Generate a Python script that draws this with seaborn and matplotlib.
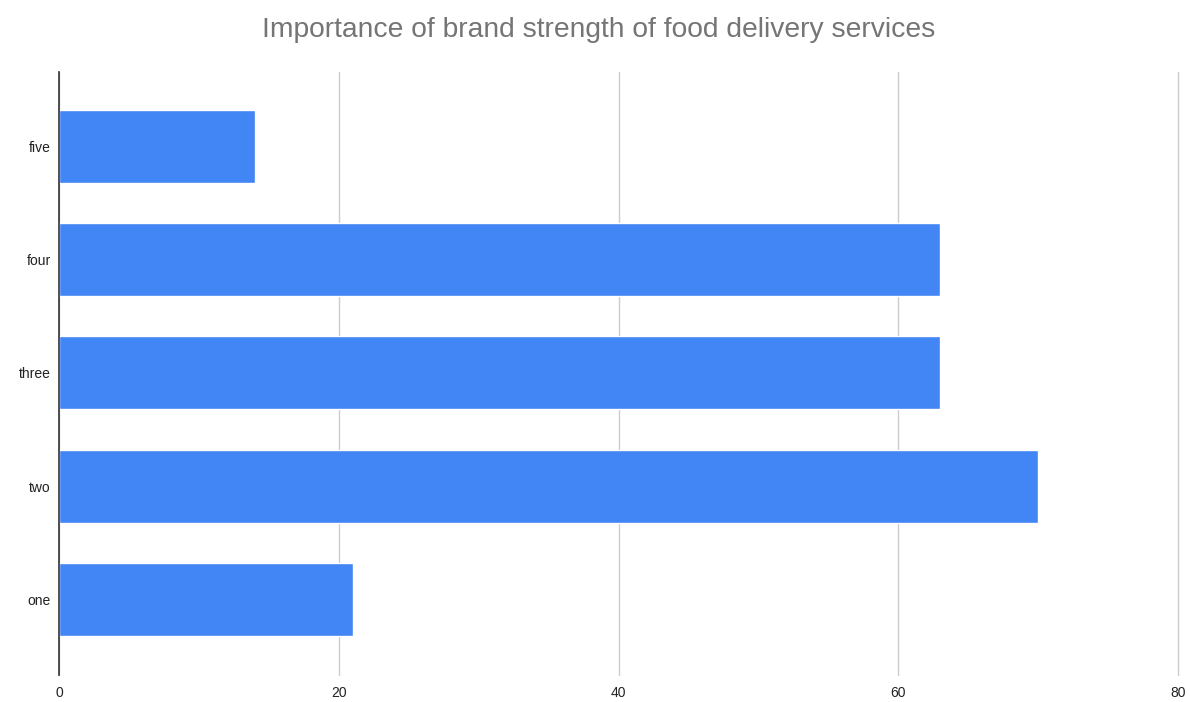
import matplotlib
matplotlib.use("Agg")
import matplotlib.pyplot as plt
import seaborn as sns
import pandas as pd

categories = ["five", "four", "three", "two", "one"]
values = [14, 63, 63, 70, 21]
x_ticks = [0, 20, 40, 60, 80]

sns.set_theme(style="white")
plt.rcParams["font.family"] = ["Liberation Sans", "DejaVu Sans"]

df = pd.DataFrame({"rating": categories, "count": values})

fig = plt.figure(figsize=(11.9, 7.02), dpi=100)
ax = fig.add_axes([59 / 1190, 1 - 675 / 702, (1178 - 59) / 1190, (675 - 72) / 702])

sns.barplot(data=df, x="count", y="rating", order=categories, color="#4285F4",
            saturation=1, width=0.645, ax=ax, zorder=3)

ax.set_xlim(0, 80)
ax.set_ylim(4.67, -0.66)
ax.set_xticks(x_ticks)
ax.set_xticklabels([str(t) for t in x_ticks])
ax.xaxis.grid(True, color="#cccccc", linewidth=1, zorder=0)
for gl in ax.get_xgridlines():
    gl.set_clip_on(False)
ax.yaxis.grid(False)
for s in ["top", "right", "bottom"]:
    ax.spines[s].set_visible(False)
ax.spines["left"].set_color("#333333")
ax.spines["left"].set_linewidth(1.2)
ax.spines["left"].set_zorder(4)
ax.tick_params(axis="both", length=0, labelsize=10, colors="#222222")
ax.tick_params(axis="y", pad=6)
ax.tick_params(axis="x", pad=8)
ax.set_xlabel("")
ax.set_ylabel("")

fig.suptitle("Importance of brand strength of food delivery services",
             x=0.503, y=1 - 30 / 702, va="center", fontsize=20.3, color="#757575")

fig.savefig("out.png", dpi=100)
